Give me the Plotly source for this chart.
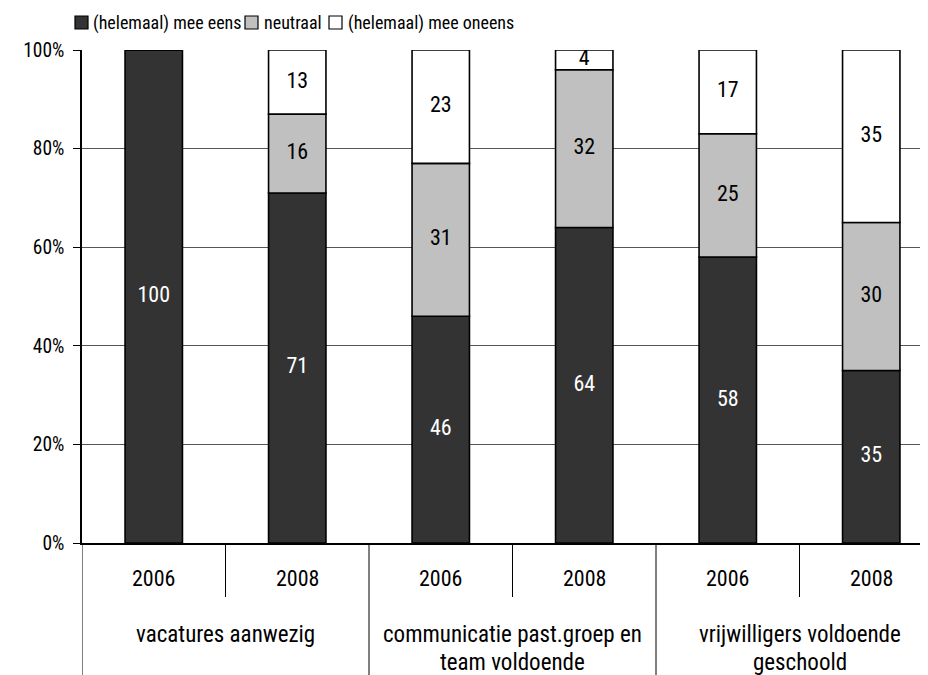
import numpy as np
import plotly.graph_objects as go

# ---- data ----
years = ["2006", "2008", "2006", "2008", "2006", "2008"]
groups = [["vacatures aanwezig"],
          ["communicatie past.groep en", "team voldoende"],
          ["vrijwilligers voldoende", "geschoold"]]
series_names = ["(helemaal) mee eens", "neutraal", "(helemaal) mee oneens"]
eens = [100, 71, 46, 64, 58, 35]
neutraal = [0, 16, 31, 32, 25, 30]
oneens = [0, 13, 23, 4, 17, 35]
y_ticks = [0, 20, 40, 60, 80, 100]
y_tick_labels = ["0%", "20%", "40%", "60%", "80%", "100%"]

# ---- style ----
FONT = "Liberation Sans Narrow, Roboto Condensed, Arial Narrow, Roboto, sans-serif"
colors = ["#333333", "#c0c0c0", "#ffffff"]
text_colors = ["#ffffff", "#000000", "#000000"]
OFF = 8  # page body margin
SW, SH = 928, 675  # screen size
W, H = SW - OFF, SH - OFF
# plot area in screen pixels
PL, PT, PB = 82, 50, 543
L, T = PL - OFF, PT - OFF
B = H - (PB - OFF)
R = 0
PW, PH = W - L - R, H - T - B
slot_px = 143.5
x_max = -0.5 + PW / slot_px

def px_x(p):
    return (p - PL) / PW

def px_y(p):
    return (PB - p) / PH

xs = np.arange(len(years))
series = [eens, neutraal, oneens]

fig = go.Figure()
base = np.zeros(len(years))
for name, vals, col, tcol in zip(series_names, series, colors, text_colors):
    v = np.array(vals, dtype=float)
    fig.add_trace(go.Bar(
        x=xs, y=v, base=base, name=name, width=0.40,
        marker=dict(color=col, line=dict(color="#000000", width=1.6)),
        showlegend=False, hoverinfo="skip"))
    mids = base + v / 2
    mask = v > 0
    fig.add_trace(go.Scatter(
        x=xs[mask], y=mids[mask], mode="text",
        text=[str(int(t)) for t in v[mask]],
        textfont=dict(family=FONT, size=22, color=tcol),
        showlegend=False, hoverinfo="skip"))
    base = base + v

annotations = []
shapes = []

# year labels
for i, yr in enumerate(years):
    annotations.append(dict(x=i, y=px_y(578), xref="x", yref="paper", text=yr,
                            showarrow=False, font=dict(family=FONT, size=22, color="#000"),
                            xanchor="center", yanchor="middle"))
# group labels
n_per_group = len(years) // len(groups)
for g, lines in enumerate(groups):
    xc = g * n_per_group + (n_per_group - 1) / 2
    for k, line in enumerate(lines):
        annotations.append(dict(x=xc, y=px_y(634 + 28 * k), xref="x", yref="paper", text=line,
                                showarrow=False, font=dict(family=FONT, size=23, color="#000"),
                                xanchor="center", yanchor="middle"))

# separators
for i in range(len(years)):
    xb = i - 0.5
    y1 = px_y(SH) if i % n_per_group == 0 else px_y(597)
    shapes.append(dict(type="line", xref="x", yref="paper", x0=xb, x1=xb, y0=0, y1=y1,
                       line=dict(color="#000", width=1)))

# legend (manual)
leg_items = [(75, 91), (245, 262), (329, 346)]
for (sx, tx), name, col in zip(leg_items, series_names, colors):
    shapes.append(dict(type="rect", xref="paper", yref="paper",
                       x0=px_x(sx), x1=px_x(sx + 13), y0=px_y(29), y1=px_y(16),
                       fillcolor=col, line=dict(color="#000", width=1.2)))
    annotations.append(dict(x=px_x(tx), y=px_y(23), xref="paper", yref="paper", text=name,
                            showarrow=False, font=dict(family=FONT, size=18, color="#000"),
                            xanchor="left", yanchor="middle"))

fig.update_layout(
    width=W, height=H, margin=dict(l=L, r=R, t=T, b=B),
    paper_bgcolor="#ffffff", plot_bgcolor="#ffffff",
    barmode="overlay", showlegend=False,
    annotations=annotations, shapes=shapes,
    xaxis=dict(range=[-0.5, x_max], showticklabels=False, showgrid=False,
               zeroline=False, ticks="", showline=True, linecolor="#000", linewidth=1.5),
    yaxis=dict(range=[0, 100], tickvals=y_ticks, ticktext=y_tick_labels,
               tickfont=dict(family=FONT, size=19.5, color="#000"),
               showgrid=True, gridcolor="#555555", gridwidth=1,
               zeroline=False, showline=True, linecolor="#000", linewidth=1.5,
               ticks="outside", ticklen=7, tickcolor="#000", ticklabelstandoff=5),
)

fig.write_html("out.html")
